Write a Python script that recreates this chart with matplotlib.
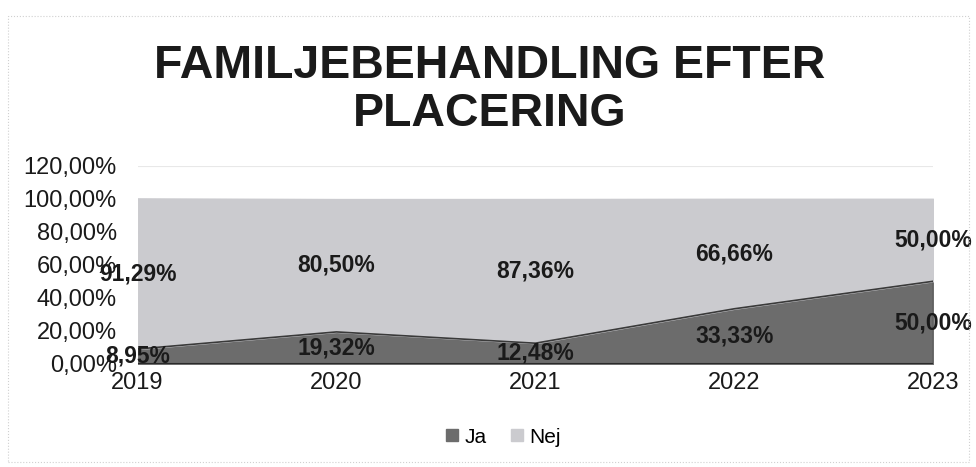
import matplotlib
matplotlib.use('Agg')
import matplotlib.pyplot as plt
from matplotlib.patches import Rectangle
import numpy as np

years = ['2019', '2020', '2021', '2022', '2023']
ja = [8.95, 19.32, 12.48, 33.33, 50.00]
nej = [91.29, 80.50, 87.36, 66.66, 50.00]
y_ticks = [0, 20, 40, 60, 80, 100, 120]

plt.rcParams['font.family'] = ['Liberation Sans', 'DejaVu Sans']

fig = plt.figure(figsize=(9.76, 4.67), dpi=100)
ax = fig.add_axes([0.141, 0.221, 0.815, 0.424])

xs = np.arange(len(years))
ja_arr = np.array(ja)
nej_arr = np.array(nej)

ax.fill_between(xs, 0, ja_arr, color='#6c6c6c', label='Ja', zorder=2)
ax.fill_between(xs, ja_arr, ja_arr + nej_arr, color='#cbcbcf', label='Nej', zorder=2)
ax.plot(xs, ja_arr, color='#3a3a3a', lw=1.2, zorder=3)
ax.plot(xs, np.zeros(len(xs)), color='#2a2a2a', lw=1.5, zorder=3)
ax.plot([xs[-1], xs[-1]], [0, ja_arr[-1]], color='#3a3a3a', lw=1.0, zorder=3)

# labels in the middle of each band
for i in range(len(xs)):
    ax.text(xs[i], ja[i] / 2, f'{ja[i]:.2f}%'.replace('.', ','), ha='center', va='center',
            fontsize=16.5, fontweight='bold', color='#1a1a1a', zorder=4)
    ax.text(xs[i], ja[i] + nej[i] / 2, f'{nej[i]:.2f}%'.replace('.', ','), ha='center', va='center',
            fontsize=16.5, fontweight='bold', color='#1a1a1a', zorder=4)

ax.set_xlim(xs[0], xs[-1])
ax.set_ylim(0, 120)
ax.set_yticks(y_ticks)
ax.set_yticklabels([f'{t:.2f}%'.replace('.', ',') for t in y_ticks])
ax.set_xticks(xs)
ax.set_xticklabels(years)
ax.tick_params(axis='both', length=0, labelsize=17, colors='#1a1a1a')
ax.tick_params(axis='y', pad=15)
ax.tick_params(axis='x', pad=6)
ax.grid(axis='y', color='#e8e8e8', lw=0.8, zorder=0)
for s in ax.spines.values():
    s.set_visible(False)

fig.text(0.502, 0.807, 'FAMILJEBEHANDLING EFTER\nPLACERING', ha='center', va='center',
         fontsize=33.5, fontweight='bold', color='#1a1a1a', linespacing=1.1)

ax.legend(loc='center', bbox_to_anchor=(0.46, -0.37), ncol=2, frameon=False,
          fontsize=15, handlelength=0.55, handleheight=0.55, handletextpad=0.3, columnspacing=1.2)

fig.patches.append(Rectangle((0.008, 0.01), 0.985, 0.955, transform=fig.transFigure,
                             fill=False, edgecolor='#d0d0d0', lw=0.8, linestyle=':'))

fig.savefig('out.png', dpi=100)
